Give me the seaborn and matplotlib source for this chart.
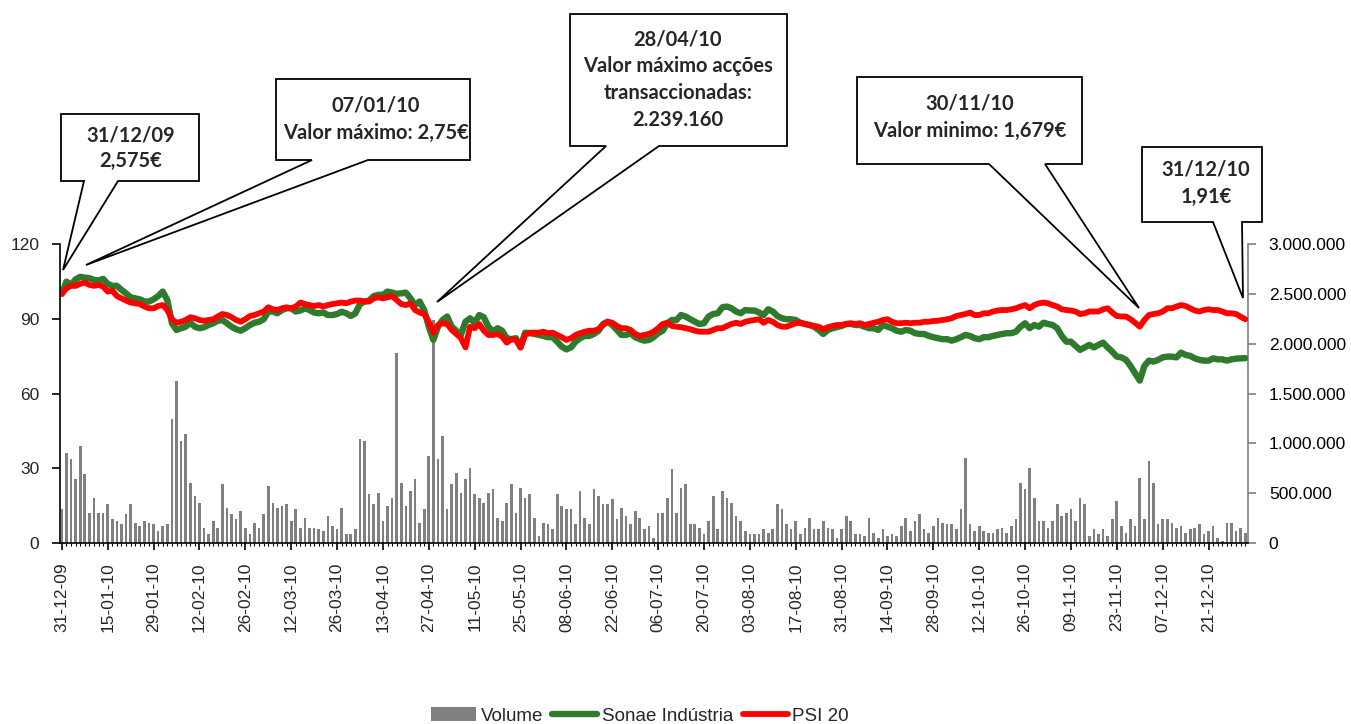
import matplotlib
matplotlib.use('Agg')
import matplotlib.pyplot as plt
import seaborn as sns
import pandas as pd
from matplotlib.patches import Polygon, Patch
from matplotlib.lines import Line2D
from matplotlib.ticker import FuncFormatter

# x labels, one every 10 trading days (31-12-09 .. 31-12-10, 259 sessions)
tick_labels = ['31-12-09', '15-01-10', '29-01-10', '12-02-10', '26-02-10', '12-03-10',
               '26-03-10', '13-04-10', '27-04-10', '11-05-10', '25-05-10', '08-06-10',
               '22-06-10', '06-07-10', '20-07-10', '03-08-10', '17-08-10', '31-08-10',
               '14-09-10', '28-09-10', '12-10-10', '26-10-10', '09-11-10', '23-11-10',
               '07-12-10', '21-12-10']

# daily volume (shares)
volume = [
    341000, 906000, 839000, 639000, 973000, 689000, 304000, 455000, 304000, 304000,
    388000, 237000, 221000, 187000, 288000, 388000, 204000, 171000, 221000, 204000,
    187000, 120000, 171000, 187000, 1241000, 1625000, 1023000, 1090000, 605000, 471000,
    405000, 154000, 87000, 221000, 154000, 589000, 354000, 288000, 237000, 321000,
    154000, 87000, 204000, 154000, 288000, 572000, 405000, 354000, 371000, 388000,
    221000, 338000, 154000, 254000, 154000, 154000, 137000, 120000, 271000, 171000,
    137000, 354000, 87000, 87000, 137000, 1040000, 1023000, 488000, 388000, 505000,
    221000, 371000, 455000, 1909000, 605000, 371000, 522000, 639000, 204000, 338000,
    873000, 2239160, 839000, 1073000, 338000, 589000, 706000, 505000, 639000, 756000,
    488000, 455000, 405000, 505000, 538000, 254000, 221000, 405000, 589000, 304000,
    555000, 455000, 488000, 254000, 70000, 204000, 187000, 137000, 488000, 371000,
    338000, 338000, 187000, 522000, 254000, 187000, 538000, 471000, 388000, 388000,
    438000, 237000, 354000, 271000, 187000, 321000, 254000, 137000, 171000, 54000,
    304000, 304000, 455000, 739000, 304000, 555000, 589000, 187000, 187000, 154000,
    87000, 221000, 471000, 137000, 522000, 455000, 405000, 271000, 221000, 120000,
    87000, 87000, 87000, 137000, 104000, 137000, 388000, 338000, 187000, 137000,
    221000, 87000, 154000, 254000, 137000, 137000, 221000, 154000, 137000, 54000,
    137000, 271000, 221000, 87000, 87000, 70000, 254000, 104000, 54000, 137000,
    70000, 87000, 70000, 171000, 254000, 120000, 221000, 288000, 137000, 104000,
    171000, 254000, 204000, 187000, 187000, 137000, 338000, 856000, 187000, 120000,
    171000, 120000, 104000, 104000, 137000, 154000, 104000, 171000, 237000, 605000,
    538000, 756000, 455000, 221000, 221000, 154000, 221000, 388000, 271000, 304000,
    338000, 221000, 455000, 388000, 70000, 137000, 87000, 137000, 70000, 237000,
    421000, 171000, 104000, 237000, 171000, 655000, 237000, 823000, 605000, 187000,
    237000, 237000, 204000, 154000, 171000, 104000, 137000, 154000, 187000, 87000,
    120000, 171000, 54000, 20000, 204000, 204000, 120000, 154000, 104000,
]

# Sonae Industria, base 100 = 31-12-09
sonae = [
    100.0, 104.9, 103.6, 105.8, 106.8, 106.5, 106.3, 105.6, 105.4, 106.0,
    104.0, 103.2, 103.2, 101.6, 100.2, 98.6, 98.2, 97.8, 96.9, 96.9,
    97.8, 99.1, 100.9, 97.5, 88.2, 85.5, 86.2, 86.8, 88.4, 86.8,
    86.2, 86.6, 87.5, 88.2, 89.2, 89.5, 88.2, 86.8, 85.8, 85.2,
    86.2, 87.5, 88.4, 88.8, 89.8, 92.9, 92.9, 92.2, 93.5, 94.2,
    94.2, 92.9, 93.3, 94.2, 93.5, 92.5, 92.2, 92.5, 91.5, 91.5,
    91.9, 92.8, 92.2, 91.1, 92.2, 95.9, 96.9, 97.3, 99.1, 99.6,
    99.6, 100.9, 100.5, 100.0, 100.2, 100.5, 98.2, 95.5, 96.9, 93.5,
    86.8, 81.5, 86.8, 89.5, 90.9, 86.8, 85.2, 83.5, 88.8, 90.2,
    88.4, 91.5, 90.6, 86.8, 84.8, 86.2, 85.2, 82.2, 81.8, 82.2,
    78.5, 84.4, 84.2, 83.9, 83.5, 83.1, 82.6, 82.6, 80.8, 78.8,
    77.7, 78.5, 80.8, 82.2, 83.1, 83.1, 83.9, 85.2, 87.9, 88.8,
    87.5, 85.5, 83.5, 83.5, 84.2, 82.6, 81.8, 81.2, 81.5, 82.6,
    84.2, 85.2, 88.2, 89.5, 89.5, 91.5, 90.9, 89.8, 88.8, 87.9,
    88.2, 90.9, 91.9, 92.2, 94.6, 94.9, 94.2, 92.9, 92.2, 93.5,
    93.3, 93.3, 92.5, 91.5, 93.8, 92.9, 91.1, 90.2, 89.8, 89.8,
    89.5, 88.4, 87.9, 87.5, 86.8, 85.5, 83.9, 85.5, 86.2, 86.6,
    87.1, 87.9, 87.9, 87.5, 87.5, 86.8, 86.2, 86.2, 85.5, 87.5,
    86.8, 86.2, 85.2, 84.8, 85.5, 85.2, 84.2, 83.9, 83.9, 83.1,
    82.6, 82.2, 81.8, 81.8, 81.2, 81.8, 82.6, 83.5, 83.1, 82.2,
    81.8, 82.6, 82.6, 83.1, 83.5, 83.9, 84.2, 84.2, 84.8, 86.8,
    88.2, 86.2, 87.5, 86.8, 88.4, 87.9, 87.5, 86.2, 83.1, 80.8,
    80.8, 79.1, 77.5, 78.5, 79.5, 78.5, 79.5, 80.4, 78.5, 76.8,
    74.8, 74.5, 73.5, 71.0, 68.1, 65.2, 71.0, 73.2, 72.8, 73.5,
    74.5, 74.8, 74.8, 74.5, 76.4, 75.5, 75.1, 74.1, 73.5, 73.2,
    73.2, 74.1, 73.7, 73.7, 73.2, 73.7, 74.0, 74.1, 74.2,
]

# PSI 20, base 100 = 31-12-09
psi20 = [
    100.0, 102.2, 103.2, 103.2, 104.0, 104.5, 103.6, 103.2, 103.6, 102.9,
    100.9, 101.3, 99.1, 98.2, 97.3, 96.5, 96.2, 95.9, 94.9, 94.2,
    94.2, 95.1, 95.5, 93.5, 89.8, 88.4, 88.8, 89.5, 90.6, 90.2,
    89.5, 89.2, 89.5, 89.8, 90.9, 91.9, 91.5, 90.6, 89.5, 88.8,
    89.8, 91.1, 91.5, 92.2, 92.9, 94.6, 93.8, 93.5, 94.2, 94.6,
    94.2, 94.9, 96.5, 95.9, 95.5, 95.1, 95.5, 94.9, 95.5, 95.9,
    96.2, 96.5, 96.2, 96.9, 97.3, 97.3, 96.9, 96.9, 98.2, 98.6,
    98.2, 98.6, 99.1, 97.5, 95.9, 95.5, 96.2, 93.5, 92.5, 91.9,
    88.8, 84.4, 87.5, 88.2, 87.9, 85.5, 83.9, 82.2, 78.5, 86.8,
    86.2, 87.9, 85.2, 83.5, 83.5, 83.9, 82.8, 80.4, 81.8, 81.5,
    78.5, 83.5, 84.4, 84.4, 84.4, 84.8, 84.2, 84.4, 83.5, 82.6,
    81.5, 82.2, 83.5, 84.2, 84.8, 85.2, 85.2, 85.8, 87.5, 88.8,
    88.4, 87.1, 86.2, 86.2, 85.5, 83.9, 83.1, 83.5, 83.9, 84.8,
    86.2, 87.9, 88.4, 87.1, 86.8, 86.6, 86.2, 85.8, 85.2, 84.8,
    84.8, 84.8, 85.5, 86.2, 86.2, 87.1, 87.9, 88.4, 87.9, 88.8,
    89.2, 89.5, 89.8, 88.4, 89.5, 88.8, 87.5, 86.8, 86.8, 87.5,
    88.2, 88.4, 87.9, 87.5, 87.1, 86.8, 85.8, 86.6, 87.1, 87.5,
    87.5, 87.9, 88.2, 87.9, 88.2, 87.5, 87.9, 88.4, 88.8, 89.5,
    89.8, 88.8, 88.2, 88.2, 88.4, 88.2, 88.4, 88.4, 88.8, 88.8,
    89.1, 89.2, 89.5, 89.8, 90.2, 91.1, 91.5, 91.9, 92.5, 91.5,
    91.5, 92.2, 92.2, 92.9, 93.3, 93.5, 93.5, 93.8, 94.2, 94.9,
    95.5, 94.2, 95.5, 96.2, 96.5, 96.2, 95.5, 94.9, 93.8, 93.5,
    93.3, 92.9, 91.9, 92.2, 92.9, 92.9, 92.9, 93.8, 94.2, 92.5,
    91.1, 90.9, 90.9, 89.8, 88.4, 86.8, 89.5, 91.5, 91.9, 92.2,
    92.9, 94.2, 94.2, 94.9, 95.5, 95.1, 94.2, 93.3, 92.9, 93.5,
    93.8, 93.5, 93.5, 92.9, 92.2, 92.2, 91.9, 90.8, 89.8,
]

df = pd.DataFrame({'day': range(len(volume)), 'Volume': volume,
                   'Sonae Indústria': sonae, 'PSI 20': psi20})

sns.set_theme(style='white')
plt.rcParams['font.family'] = ['Liberation Sans', 'DejaVu Sans']

W, H = 1351, 724
GREEN = '#2E7B2E'
RED = '#FF0000'
GREY = '#808080'


def fx(x):
    return x / W


def fy(y):
    return 1 - y / H


fig = plt.figure(figsize=(W / 100, H / 100), dpi=100)
fig.patch.set_facecolor('white')
ax = fig.add_axes([fx(60), fy(543), (1248 - 60) / W, (543 - 244) / H])
ax_vol = ax.twinx()
ax.set_zorder(ax_vol.get_zorder() + 1)
ax.patch.set_visible(False)

# volume bars on the secondary (right) axis
sns.barplot(data=df, x='day', y='Volume', color=GREY, saturation=1, width=0.58,
            ax=ax_vol, linewidth=0)
# indexed prices on the primary (left) axis
sns.lineplot(data=df, x='day', y='Sonae Indústria', color=GREEN, lw=4.6, ax=ax)
sns.lineplot(data=df, x='day', y='PSI 20', color=RED, lw=4.2, ax=ax)

ax.set_xlim(-0.4, 258.6)
ax.set_ylim(0, 120)
ax.set_yticks([0, 30, 60, 90, 120])
ax.set_xticks(range(0, 10 * len(tick_labels), 10))
ax.set_xticklabels(tick_labels, rotation=90, va='top', ha='center')
ax.set_xticks(range(len(volume)), minor=True)
ax.set_xlabel('')
ax.set_ylabel('')

ax_vol.set_ylim(0, 3000000)
ax_vol.set_yticks(range(0, 3000001, 500000))
ax_vol.yaxis.set_major_formatter(FuncFormatter(lambda v, p: f'{int(v):,}'.replace(',', '.')))
ax_vol.set_xlabel('')
ax_vol.set_ylabel('')

for s in ['top', 'right']:
    ax.spines[s].set_visible(False)
for s in ['left', 'bottom']:
    ax.spines[s].set_color('black')
    ax.spines[s].set_linewidth(1.2)
for s in ['top', 'left', 'bottom']:
    ax_vol.spines[s].set_visible(False)
ax_vol.spines['right'].set_color(GREY)
ax_vol.spines['right'].set_linewidth(1.2)

ax.tick_params(axis='y', direction='out', length=6, width=1.2, color='black',
               labelsize=12.5, pad=9, left=True)
ax.tick_params(axis='x', which='major', direction='out', length=5, width=1.2,
               color='black', labelsize=12.5, pad=9, bottom=True)
ax.tick_params(axis='x', which='minor', direction='out', length=2.5, width=0.8,
               color='black', bottom=True)
ax_vol.tick_params(axis='y', direction='out', length=6, width=1.2, color=GREY,
                   labelcolor='black', labelsize=12.5, pad=9, right=True)
ax.grid(False)
ax_vol.grid(False)

# callout boxes (pixel layout of the reference)
callouts = [
    # box (x0, y0, x1, y1), tail base x (left, right), tip (x, y), text lines, text center x, line ys
    ((61, 114, 199, 181), (84, 118), (63, 270), ['31/12/09', '2,575€'], 131, [135, 161]),
    ((276, 79, 470, 160), (312, 368), (86, 265), ['07/01/10', 'Valor máximo: 2,75€'], 376, [106, 133]),
    ((570, 14, 787, 146), (606, 659), (437, 302),
     ['28/04/10', 'Valor máximo acções', 'transaccionadas:', '2.239.160'], 678, [40, 66, 93, 120]),
    ((857, 77, 1082, 164), (989, 1045), (1139, 308), ['30/11/10', 'Valor minimo: 1,679€'], 970, [104, 131]),
    ((1142, 147, 1262, 222), (1213, 1242), (1243, 298), ['31/12/10', '1,91€'], 1206, [169, 197]),
]
for (x0, y0, x1, y1), (bl, br), (tx, ty), lines, cx, ys in callouts:
    pts = [(x0, y0), (x1, y0), (x1, y1), (br, y1), (tx, ty), (bl, y1), (x0, y1)]
    poly = Polygon([(fx(a), fy(b)) for a, b in pts], closed=True, transform=fig.transFigure,
                   facecolor='white', edgecolor='black', linewidth=1.3, zorder=10)
    fig.patches.append(poly)
    for line, yy in zip(lines, ys):
        fig.text(fx(cx), fy(yy), line, ha='center', va='center', fontsize=14.5,
                 fontweight='bold', family=['Lato', 'DejaVu Sans'], zorder=11)

handles = [Patch(facecolor=GREY, edgecolor='none'),
           Line2D([], [], color=GREEN, lw=4.6),
           Line2D([], [], color=RED, lw=4.2)]
fig.legend(handles, ['Volume', 'Sonae Indústria', 'PSI 20'], loc='center',
           bbox_to_anchor=(fx(640), fy(716)), ncol=3, frameon=False, fontsize=13.5,
           handlelength=2.4, handletextpad=0.25, columnspacing=0.5)

fig.savefig('out.png', dpi=100, facecolor='white')
